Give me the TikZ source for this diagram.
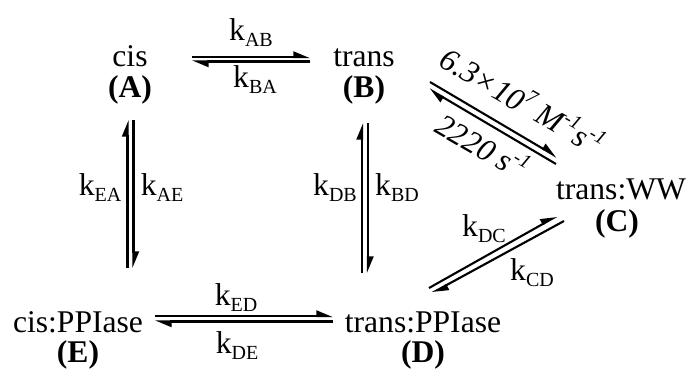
\documentclass[tikz,border=0pt]{standalone}
\usepackage{fontspec}
\setmainfont{Liberation Serif}
\usetikzlibrary{arrows.meta}
\newcommand\subs[1]{\raisebox{-0.2em}{\fontsize{20}{20}\selectfont #1}}
\newcommand\sups[1]{\raisebox{0.42em}{\fontsize{20}{20}\selectfont #1}}
\begin{document}
\begin{tikzpicture}[x=1pt,y=1pt,
  font=\fontsize{31.6}{36}\selectfont,
  lbl/.style={inner sep=0pt, anchor=base},
  hp/.style={line width=2.1pt, -{Triangle[left,length=14pt,width=11pt]}}]
\path[use as bounding box] (0,0) rectangle (688,-368);
% species
\node[lbl] (cis) at (130,-66) {cis};
\node[lbl] (A) at (130,-97) {\bfseries (A)};
\node[lbl] (trans) at (364,-66) {trans};
\node[lbl] (B) at (364,-97) {\bfseries (B)};
\node[lbl] (transWW) at (621,-199) {trans:WW};
\node[lbl] (C) at (617,-231) {\bfseries (C)};
\node[lbl] (transP) at (423,-332) {trans:PPIase};
\node[lbl] (D) at (423,-362) {\bfseries (D)};
\node[lbl] (cisP) at (78,-332) {cis:PPIase};
\node[lbl] (E) at (78,-362) {\bfseries (E)};
% rate labels
\node[lbl] (kAB) at (251,-40) {k\subs{AB}};
\node[lbl] (kBA) at (255,-87) {k\subs{BA}};
\node[lbl] (kEA) at (100,-195) {k\subs{EA}};
\node[lbl] (kAE) at (162,-195) {k\subs{AE}};
\node[lbl] (kDB) at (335,-195) {k\subs{DB}};
\node[lbl] (kBD) at (397,-195) {k\subs{BD}};
\node[lbl] (kED) at (236,-305) {k\subs{ED}};
\node[lbl] (kDE) at (237,-353) {k\subs{DE}};
\node[lbl] (kDC) at (484,-236) {k\subs{DC}};
\node[lbl] (kCD) at (532,-280) {k\subs{CD}};
\node[inner sep=0pt, rotate=-30] (kBC) at (523,-100) {\itshape 6.3×10\sups{7} M\sups{-1}s\sups{-1}};
\node[inner sep=0pt, rotate=-30] (kCB) at (483,-145) {\itshape 2220 s\sups{-1}};
% arrow end points
\coordinate (ab1) at (192,-57); \coordinate (ab2) at (310,-57);
\coordinate (ba1) at (310,-61.5); \coordinate (ba2) at (192,-61.5);
\coordinate (ea1) at (127.5,-268); \coordinate (ea2) at (127.5,-120);
\coordinate (ae1) at (133.5,-120); \coordinate (ae2) at (133.5,-268);
\coordinate (db1) at (362,-273); \coordinate (db2) at (362,-123);
\coordinate (bd1) at (368,-123); \coordinate (bd2) at (368,-273);
\coordinate (ed1) at (155,-316); \coordinate (ed2) at (333,-316);
\coordinate (de1) at (333,-321.5); \coordinate (de2) at (155,-321.5);
\coordinate (bc1) at (430,-82); \coordinate (bc2) at (557,-157);
\coordinate (cb1) at (556,-164); \coordinate (cb2) at (429,-89);
\coordinate (dc1) at (429,-288); \coordinate (dc2) at (557,-216);
\coordinate (cd1) at (564,-221); \coordinate (cd2) at (432,-293);
% equilibrium arrows
\draw[hp] (ab1) -- (ab2);
\draw[hp] (ba1) -- (ba2);
\draw[hp] (ea1) -- (ea2);
\draw[hp] (ae1) -- (ae2);
\draw[hp] (db1) -- (db2);
\draw[hp] (bd1) -- (bd2);
\draw[hp] (ed1) -- (ed2);
\draw[hp] (de1) -- (de2);
\draw[hp] (bc1) -- (bc2);
\draw[hp] (cb1) -- (cb2);
\draw[hp] (dc1) -- (dc2);
\draw[hp] (cd1) -- (cd2);
\end{tikzpicture}
\end{document}
